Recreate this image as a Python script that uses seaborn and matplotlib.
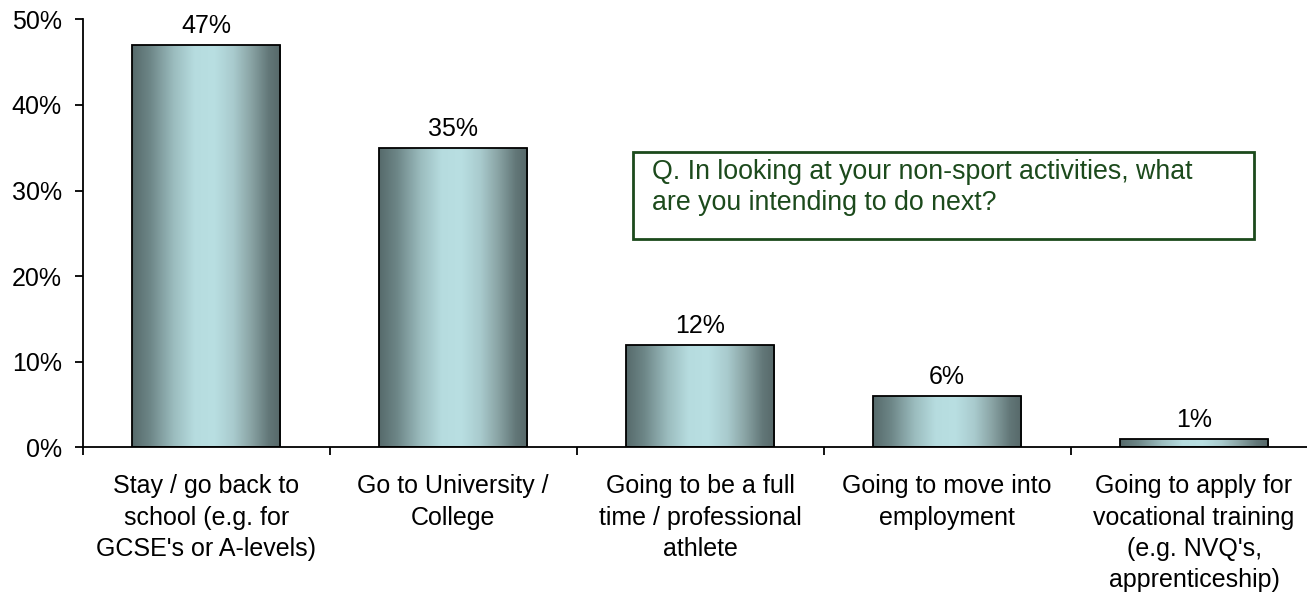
import numpy as np
import pandas as pd
import matplotlib
matplotlib.use("Agg")
import matplotlib.pyplot as plt
import seaborn as sns
from matplotlib.colors import LinearSegmentedColormap
from matplotlib.patches import Rectangle

# Survey answers and shares (%)
categories = [
    "Stay / go back to\nschool (e.g. for\nGCSE's or A-levels)",
    "Go to University /\nCollege",
    "Going to be a full\ntime / professional\nathlete",
    "Going to move into\nemployment",
    "Going to apply for\nvocational training\n(e.g. NVQ's,\napprenticeship)",
]
shares = [47, 35, 12, 6, 1]
y_ticks = [0, 10, 20, 30, 40, 50]
y_tick_labels = ["0%", "10%", "20%", "30%", "40%", "50%"]
question = "Q. In looking at your non-sport activities, what\nare you intending to do next?"

sns.set_theme(style="white")
plt.rcParams["font.family"] = ["Liberation Sans", "DejaVu Sans"]
plt.rcParams["text.color"] = "black"
plt.rcParams["xtick.color"] = "black"
plt.rcParams["ytick.color"] = "black"
plt.rcParams["xtick.labelcolor"] = "black"
plt.rcParams["ytick.labelcolor"] = "black"

W, H, DPI = 1307, 594, 100
fig = plt.figure(figsize=(W / DPI, H / DPI), dpi=DPI)
ax_left, ax_right = 82.7, 1317.5
ax_top, ax_bottom = 19.3, 447.3
ax = fig.add_axes([ax_left / W, 1 - ax_bottom / H,
                   (ax_right - ax_left) / W, (ax_bottom - ax_top) / H])

df = pd.DataFrame({"answer": categories, "share": shares})
sns.barplot(data=df, x="answer", y="share", ax=ax, width=0.6,
            facecolor="none", edgecolor="black", linewidth=1.3, zorder=3)

# Metallic horizontal gradient inside each bar
metal = LinearSegmentedColormap.from_list("metal", [
    (0.00, "#566a6b"),
    (0.12, "#6d8687"),
    (0.28, "#9bbcbe"),
    (0.42, "#b6dcdf"),
    (0.55, "#b9dfe2"),
    (0.68, "#a9cbce"),
    (0.80, "#8aa4a5"),
    (0.92, "#627778"),
    (1.00, "#566869"),
])
grad = np.linspace(0, 1, 256).reshape(1, -1)
for bar in ax.patches:
    x0, y0 = bar.get_x(), bar.get_y()
    w, h = bar.get_width(), bar.get_height()
    im = ax.imshow(grad, cmap=metal, aspect="auto",
                   extent=(x0, x0 + w, y0, y0 + h), zorder=2,
                   interpolation="bilinear")
    im.set_clip_path(bar)
ax.set_xlim(-0.5, len(categories) - 0.5)
ax.set_ylim(0, 50)

# Value labels above the bars
for bar, v in zip(ax.patches, shares):
    ax.annotate(f"{v}%", (bar.get_x() + bar.get_width() / 2, bar.get_height()),
                xytext=(0, 5), textcoords="offset points",
                ha="center", va="bottom", fontsize=18, color="black")

# Axes styling
for side in ("top", "right"):
    ax.spines[side].set_visible(False)
for side in ("left", "bottom"):
    ax.spines[side].set_color("black")
    ax.spines[side].set_linewidth(1.3)

ax.set_yticks(y_ticks)
ax.set_yticklabels(y_tick_labels)
ax.tick_params(axis="y", which="major", direction="out", length=6, width=1.3,
               color="black", labelcolor="black", labelsize=18, pad=9, left=True)

ax.set_xticks(range(len(categories)))
ax.set_xticklabels(categories, linespacing=1.38)
ax.tick_params(axis="x", which="major", length=0, labelsize=18, pad=19.5,
               labelcolor="black")
ax.set_xticks(np.arange(-0.5, len(categories), 1.0), minor=True)
ax.tick_params(axis="x", which="minor", direction="out", length=6, width=1.3,
               color="black", bottom=True)
ax.set_xlabel("")
ax.set_ylabel("")
ax.grid(False)

# Question box
bx0, by0, bx1, by1 = 633, 152, 1254, 239
fig.add_artist(Rectangle((bx0 / W, 1 - by1 / H), (bx1 - bx0) / W, (by1 - by0) / H,
                         transform=fig.transFigure, facecolor="white",
                         edgecolor="#1c4a1c", linewidth=2.0, zorder=5))
fig.text(652 / W, 1 - 159 / H, question, ha="left", va="top",
         fontsize=19.3, color="#1c4a1c", linespacing=1.25, zorder=6)

fig.savefig("out.png", dpi=DPI, facecolor="white")
